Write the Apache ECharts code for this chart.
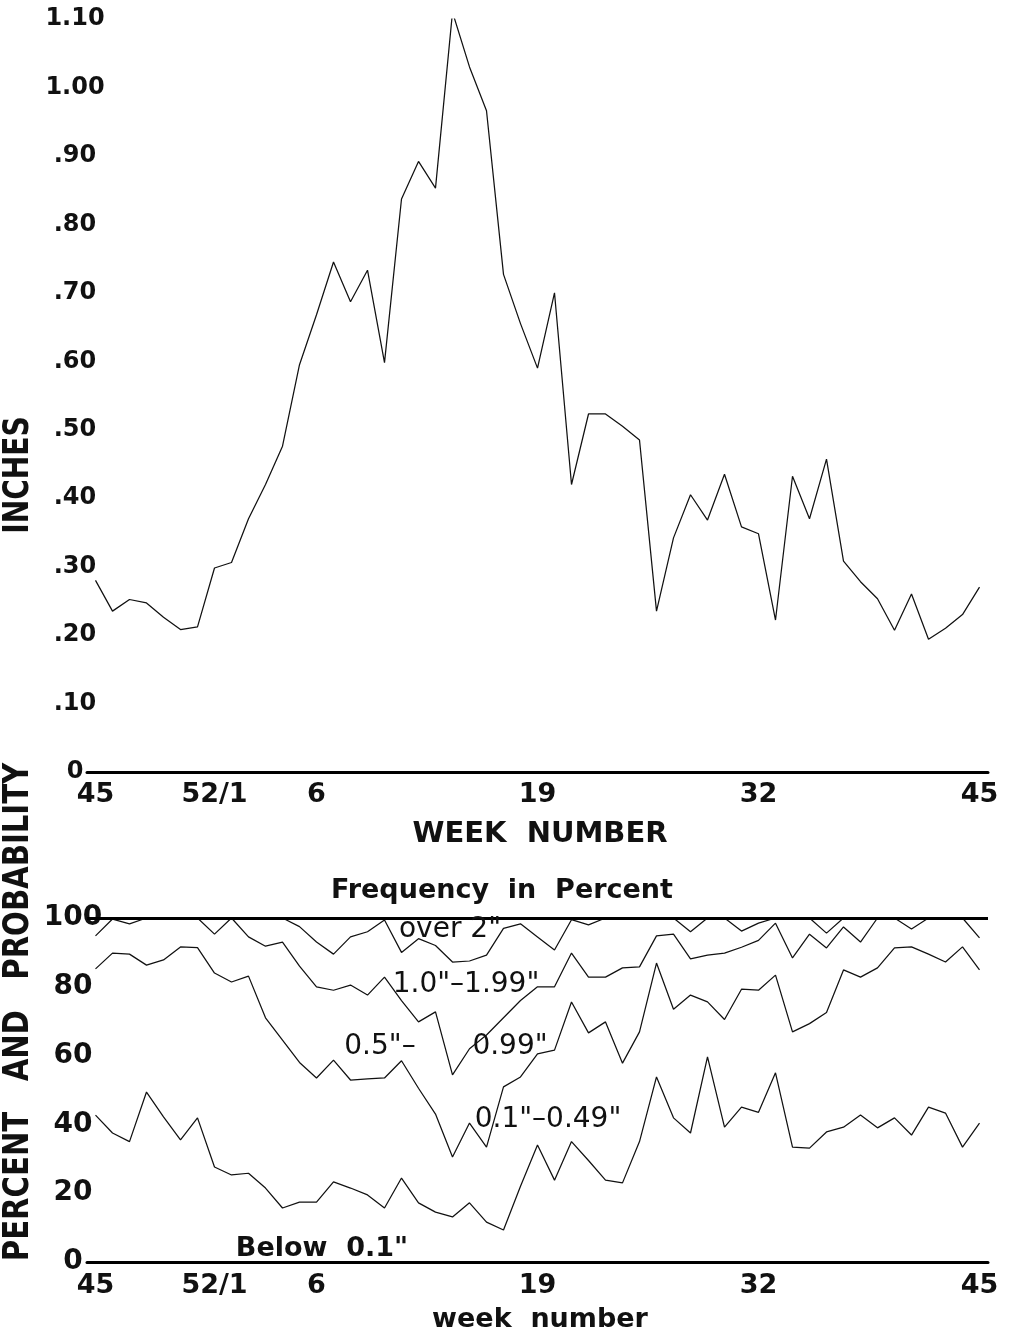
<!DOCTYPE html>
<html><head><meta charset="utf-8">
<script src="https://cdn.jsdelivr.net/npm/echarts/dist/echarts.min.js"></script>
<style>html,body{margin:0;padding:0;background:#fff}#c{width:1013px;height:1336px}</style>
</head><body><div id="c"></div>
<script>
// Week sequence: week 45 through 52, then 1 through 45
const weeks = ['45','46','47','48','49','50','51','52','1','2','3','4','5','6','7','8','9','10','11','12','13','14','15','16','17','18','19','20','21','22','23','24','25','26','27','28','29','30','31','32','33','34','35','36','37','38','39','40','41','42','43','44','45'];

// Top panel: weekly mean rainfall, inches
const inches = [0.28,0.235,0.252,0.247,0.226,0.208,0.212,0.298,0.306,0.37,0.42,0.476,0.595,0.668,0.745,0.687,0.733,0.598,0.837,0.892,0.853,1.11,1.03,0.966,0.727,0.655,0.59,0.70,0.42,0.523,0.523,0.505,0.485,0.235,0.342,0.405,0.368,0.435,0.358,0.348,0.222,0.432,0.37,0.457,0.308,0.278,0.253,0.207,0.26,0.194,0.21,0.23,0.27];

// Bottom panel: cumulative frequency (percent of weeks below each amount)
const pctBelow2in = [100,100,100,100,100,100,100,100,100,100,100,100,97.5,93,89.5,94.5,96,99.4,90,94,92,87.2,87.5,89.2,97,98.3,94.5,90.7,99.5,98,100,100,100,100,100,96,100,100,96.2,98.5,100,100,100,95.6,100,100,100,100,100,100,100,100,100];
const pctBelow1in = [94.8,99.7,98.3,100,100,100,100,95.3,100,94.5,91.8,93,86,80,79,80.5,77.6,82.8,76,69.8,72.7,54.4,62,66,71,76,80,80,89.8,82.8,82.8,85.5,85.8,94.8,95.3,88.1,89.2,89.8,91.5,93.5,98.5,88.4,95.3,91.3,97.4,93,100,100,96.8,100,100,100,94.2];
const pctBelow05in = [85.2,89.8,89.5,86.3,87.8,91.6,91.4,84,81.4,83.1,71,64.5,58,53.5,58.7,52.9,53.2,53.5,58.5,50.5,43,30.5,40.4,33.4,50.9,53.8,60.5,61.6,75.6,66.6,69.8,57.8,66.9,86.9,73.5,77.6,75.6,70.5,79.3,79,83.4,66.9,69.3,72.5,84.9,82.8,85.5,91.3,91.6,89.5,87.2,91.6,84.9];
const pctBelow01in = [42.7,37.5,35,49.4,42.2,35.5,41.9,27.6,25.3,25.8,21.5,15.7,17.4,17.4,23.3,21.5,19.5,15.7,24.4,17.2,14.5,13.1,17.2,11.6,9.3,22,34,23.8,35,29.5,23.8,23,35,53.8,41.9,37.5,59.6,39.2,45,43.5,55,33.4,33.1,37.8,39.2,42.7,39,41.9,36.9,45,43.3,33.4,40.4];

// Axis tick labels
const xTickIndex = [0, 7, 13, 26, 39, 52];
const xTickText = ['45', '52/1', '6', '19', '32', '45'];

const FONT = '"DejaVu Sans", "Noto Sans", sans-serif';
const INK = '#111';

function pairs(arr) { return arr.map((v, i) => [i, v]); }
function weekLabel(v) {
  const k = xTickIndex.indexOf(Math.round(v * 2) / 2);
  return k >= 0 ? xTickText[k] : '';
}
function inchLabel(v) {
  if (Math.abs(v) < 1e-9) return '0';
  const s = v.toFixed(2);
  return v < 1 ? s.slice(1) : s;
}

const lineStyle = { color: INK, width: 1.25 };
function lineSeries(data, xi, yi, extra) {
  return Object.assign({
    type: 'line', xAxisIndex: xi, yAxisIndex: yi, data: pairs(data),
    symbol: 'none', lineStyle: lineStyle, silent: true, z: 3
  }, extra || {});
}

function xAxisDef(gi, margin) {
  return {
    type: 'value', gridIndex: gi, min: -0.5, max: 52.5, interval: 0.5,
    axisLine: { show: true, onZero: false, lineStyle: { color: '#000', width: 3 } },
    axisTick: { show: false }, splitLine: { show: false },
    axisLabel: {
      show: true, formatter: weekLabel, margin: margin, color: INK,
      fontFamily: FONT, fontSize: 27, fontWeight: 'bold', showMinLabel: true, showMaxLabel: true
    }
  };
}

function txt(text, x, y, size, weight, extra) {
  return Object.assign({
    type: 'text', x: x, y: y, silent: true, z: 10,
    style: {
      text: text, x: 0, y: 0, fill: INK,
      font: (weight || 'normal') + ' ' + size + 'px ' + FONT,
      textAlign: 'center', textVerticalAlign: 'middle', align: 'center', verticalAlign: 'middle'
    }
  }, extra || {});
}

const chart = echarts.init(document.getElementById('c'), null, { renderer: 'canvas' });
chart.setOption({
  animation: false,
  backgroundColor: '#fff',
  grid: [
    { left: 87, top: 19, width: 901, height: 753 },
    { left: 87, top: 918, width: 901, height: 344 }
  ],
  xAxis: [xAxisDef(0, 9), xAxisDef(1, 10)],
  yAxis: [
    {
      type: 'value', gridIndex: 0, min: 0, max: 1.1, interval: 0.1,
      axisLine: { show: false }, axisTick: { show: false }, splitLine: { show: false },
      axisLabel: { formatter: inchLabel, align: 'center', margin: 12, color: INK,
        fontFamily: FONT, fontSize: 24, fontWeight: 'bold' }
    },
    {
      type: 'value', gridIndex: 1, min: 0, max: 100, interval: 20,
      axisLine: { show: false }, axisTick: { show: false }, splitLine: { show: false },
      axisLabel: { align: 'center', margin: 14, color: INK,
        fontFamily: FONT, fontSize: 28, fontWeight: 'bold' }
    }
  ],
  series: [
    lineSeries(inches, 0, 0),
    lineSeries(pctBelow2in, 1, 1, {
      markLine: {
        silent: true, symbol: 'none', label: { show: false },
        lineStyle: { color: '#000', width: 3, type: 'solid' },
        data: [{ yAxis: 100 }]
      }
    }),
    lineSeries(pctBelow1in, 1, 1),
    lineSeries(pctBelow05in, 1, 1),
    lineSeries(pctBelow01in, 1, 1)
  ],
  graphic: [
    txt('INCHES', 19, 475, 36, 'bold', { rotation: Math.PI / 2, scaleX: 0.78 }),
    txt('PERCENT   AND   PROBABILITY', 19, 1012, 36, 'bold', { rotation: Math.PI / 2, scaleX: 0.81 }),
    txt('WEEK  NUMBER', 540, 834, 29, 'bold'),
    txt('Frequency  in  Percent', 502, 891, 27, 'bold'),
    txt('week  number', 540, 1320, 27, 'bold'),
    txt('over 2"', 450, 930, 28),
    txt('1.0"\u20131.99"', 466, 985, 28),
    txt('0.5"\u2013', 380, 1047, 28),
    txt('0.99"', 510, 1047, 28),
    txt('0.1"\u20130.49"', 548, 1120, 28),
    txt('Below  0.1"', 322, 1249, 27, 'bold')
  ]
});
</script>
</body></html>
